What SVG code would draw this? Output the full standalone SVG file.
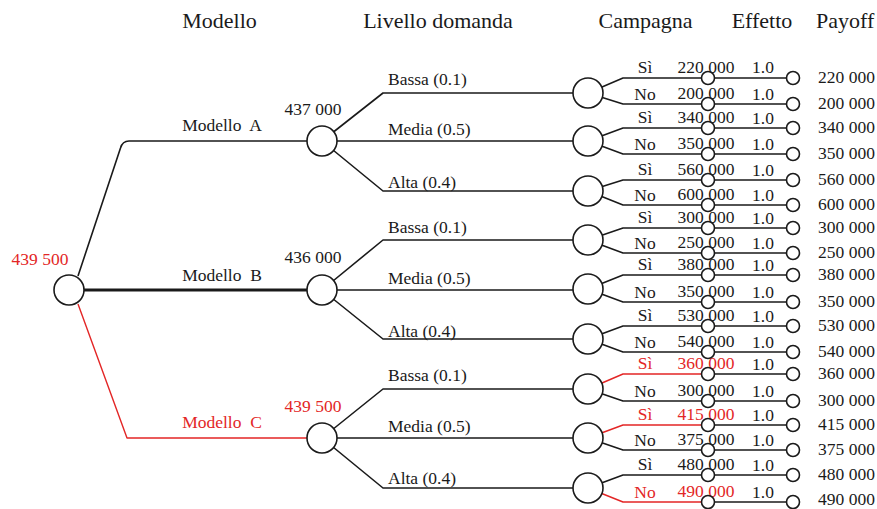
<svg xmlns="http://www.w3.org/2000/svg" width="877" height="509" viewBox="0 0 877 509">
<style>
.bg{fill:#fff}
.ln{fill:none;stroke:#1a1a1a;stroke-width:1.6;stroke-linejoin:round}
.thick{stroke-width:2.8}
.red{stroke:#e32626;stroke-width:1.4}
.nd{fill:#fff;stroke:#1a1a1a;stroke-width:1.6}
.t{font-family:"Liberation Serif","Times New Roman",serif;font-size:17.5px;fill:#1a1a1a}
.h{font-size:22px}
.m{text-anchor:middle}
.rt{fill:#e32626}
</style>
<rect class="bg" x="0" y="0" width="877" height="509"/>
<g id="headers">
<text class="t h m" x="219.5" y="28">Modello</text>
<text class="t h m" x="438" y="28">Livello domanda</text>
<text class="t h m" x="645.5" y="28">Campagna</text>
<text class="t h m" x="762" y="28">Effetto</text>
<text class="t h" x="816" y="28">Payoff</text>
</g>
<g id="connectors">
<path class="ln" d="M78,276 L120.5,148 Q122.5,141 129,141 H307"/>
<path class="ln thick" d="M84,290 H307"/>
<path class="ln red" d="M78,304 L127,438 H307"/>
<path class="ln" d="M322,141 L383,93 H574 M322,141 H574 M322,141 L383,191 H574"/>
<path class="ln" d="M322,290 L383,240 H574 M322,290 H574 M322,290 L383,339 H574"/>
<path class="ln" d="M322,438 L383,389 H574 M322,438 H574 M322,438 L383,488 H574"/>
<path class="ln" d="M588,93 L623,78 H786 M588,93 L623,104 H786"/>
<path class="ln" d="M588,141 L623,128 H786 M588,141 L623,154 H786"/>
<path class="ln" d="M588,191 L623,180 H786 M588,191 L623,205 H786"/>
<path class="ln" d="M588,240 L623,228 H786 M588,240 L623,253 H786"/>
<path class="ln" d="M588,289 L623,275 H786 M588,289 L623,302 H786"/>
<path class="ln" d="M588,339 L623,326 H786 M588,339 L623,352 H786"/>
<path class="ln red" d="M588,389 L623,374 H708"/>
<path class="ln" d="M708,374 H786 M588,389 L623,401 H786"/>
<path class="ln red" d="M588,438 L623,425 H708"/>
<path class="ln" d="M708,425 H786 M588,438 L623,450 H786"/>
<path class="ln" d="M588,488 L623,475 H786"/>
<path class="ln red" d="M588,488 L623,502 H708"/>
<path class="ln" d="M708,502 H786"/>
</g>
<g id="labels">
<text class="t m" x="222" y="131">Modello&#160; A</text>
<text class="t m" x="222" y="281">Modello&#160; B</text>
<text class="t m rt" x="222" y="428">Modello&#160; C</text>
<text class="t" x="388" y="85">Bassa (0.1)</text>
<text class="t" x="388" y="135">Media (0.5)</text>
<text class="t" x="388" y="188">Alta (0.4)</text>
<text class="t" x="388" y="233">Bassa (0.1)</text>
<text class="t" x="388" y="284">Media (0.5)</text>
<text class="t" x="388" y="337">Alta (0.4)</text>
<text class="t" x="388" y="381">Bassa (0.1)</text>
<text class="t" x="388" y="432">Media (0.5)</text>
<text class="t" x="388" y="484">Alta (0.4)</text>
<g class="t m">
<text x="645" y="73">Sì</text><text x="645" y="100">No</text>
<text x="645" y="123">Sì</text><text x="645" y="150">No</text>
<text x="645" y="175">Sì</text><text x="645" y="201">No</text>
<text x="645" y="223">Sì</text><text x="645" y="249">No</text>
<text x="645" y="270">Sì</text><text x="645" y="298">No</text>
<text x="645" y="321">Sì</text><text x="645" y="348">No</text>
<text x="645" y="369" class="rt">Sì</text><text x="645" y="397">No</text>
<text x="645" y="420" class="rt">Sì</text><text x="645" y="446">No</text>
<text x="645" y="470">Sì</text><text x="645" y="498" class="rt">No</text>
<text x="706" y="73">220 000</text><text x="706" y="99">200 000</text>
<text x="706" y="123">340 000</text><text x="706" y="149">350 000</text>
<text x="706" y="175">560 000</text><text x="706" y="200">600 000</text>
<text x="706" y="223">300 000</text><text x="706" y="248">250 000</text>
<text x="706" y="270">380 000</text><text x="706" y="297">350 000</text>
<text x="706" y="321">530 000</text><text x="706" y="347">540 000</text>
<text x="706" y="369" class="rt">360 000</text><text x="706" y="396">300 000</text>
<text x="706" y="420" class="rt">415 000</text><text x="706" y="445">375 000</text>
<text x="706" y="470">480 000</text><text x="706" y="497" class="rt">490 000</text>
<text x="763" y="73">1.0</text><text x="763" y="100">1.0</text>
<text x="763" y="124">1.0</text><text x="763" y="150">1.0</text>
<text x="763" y="176">1.0</text><text x="763" y="201">1.0</text>
<text x="763" y="224">1.0</text><text x="763" y="249">1.0</text>
<text x="763" y="271">1.0</text><text x="763" y="298">1.0</text>
<text x="763" y="322">1.0</text><text x="763" y="348">1.0</text>
<text x="763" y="370">1.0</text><text x="763" y="397">1.0</text>
<text x="763" y="421">1.0</text><text x="763" y="446">1.0</text>
<text x="763" y="471">1.0</text><text x="763" y="498">1.0</text>
</g>
</g>
<g id="root"><circle class="nd" cx="69" cy="290" r="15"/><text class="t m rt" x="40" y="265">439 500</text></g>
<g id="modelloA"><circle class="nd" cx="322" cy="141" r="15"/><text class="t m" x="313" y="115">437 000</text></g>
<g id="modelloB"><circle class="nd" cx="322" cy="290" r="15"/><text class="t m" x="313" y="263">436 000</text></g>
<g id="modelloC"><circle class="nd" cx="322" cy="438" r="15"/><text class="t m rt" x="313" y="412">439 500</text></g>
<g id="campA1"><circle class="nd" cx="588" cy="93" r="15"/></g>
<g id="campA2"><circle class="nd" cx="588" cy="141" r="15"/></g>
<g id="campA3"><circle class="nd" cx="588" cy="191" r="15"/></g>
<g id="campB1"><circle class="nd" cx="588" cy="240" r="15"/></g>
<g id="campB2"><circle class="nd" cx="588" cy="289" r="15"/></g>
<g id="campB3"><circle class="nd" cx="588" cy="339" r="15"/></g>
<g id="campC1"><circle class="nd" cx="588" cy="389" r="15"/></g>
<g id="campC2"><circle class="nd" cx="588" cy="438" r="15"/></g>
<g id="campC3"><circle class="nd" cx="588" cy="488" r="15"/></g>
<g id="effetto">
<g id="eff1"><circle class="nd" cx="708" cy="78" r="6.5"/></g>
<g id="eff2"><circle class="nd" cx="708" cy="104" r="6.5"/></g>
<g id="eff3"><circle class="nd" cx="708" cy="128" r="6.5"/></g>
<g id="eff4"><circle class="nd" cx="708" cy="154" r="6.5"/></g>
<g id="eff5"><circle class="nd" cx="708" cy="180" r="6.5"/></g>
<g id="eff6"><circle class="nd" cx="708" cy="205" r="6.5"/></g>
<g id="eff7"><circle class="nd" cx="708" cy="228" r="6.5"/></g>
<g id="eff8"><circle class="nd" cx="708" cy="253" r="6.5"/></g>
<g id="eff9"><circle class="nd" cx="708" cy="275" r="6.5"/></g>
<g id="eff10"><circle class="nd" cx="708" cy="302" r="6.5"/></g>
<g id="eff11"><circle class="nd" cx="708" cy="326" r="6.5"/></g>
<g id="eff12"><circle class="nd" cx="708" cy="352" r="6.5"/></g>
<g id="eff13"><circle class="nd" cx="708" cy="374" r="6.5"/></g>
<g id="eff14"><circle class="nd" cx="708" cy="401" r="6.5"/></g>
<g id="eff15"><circle class="nd" cx="708" cy="425" r="6.5"/></g>
<g id="eff16"><circle class="nd" cx="708" cy="450" r="6.5"/></g>
<g id="eff17"><circle class="nd" cx="708" cy="475" r="6.5"/></g>
<g id="eff18"><circle class="nd" cx="708" cy="502" r="6.5"/></g>
</g>
<g id="payoffs">
<g id="pay1"><circle class="nd" cx="793" cy="78" r="6.5"/><text class="t" x="818" y="83">220 000</text></g>
<g id="pay2"><circle class="nd" cx="793" cy="104" r="6.5"/><text class="t" x="818" y="109">200 000</text></g>
<g id="pay3"><circle class="nd" cx="793" cy="128" r="6.5"/><text class="t" x="818" y="133">340 000</text></g>
<g id="pay4"><circle class="nd" cx="793" cy="154" r="6.5"/><text class="t" x="818" y="159">350 000</text></g>
<g id="pay5"><circle class="nd" cx="793" cy="180" r="6.5"/><text class="t" x="818" y="185">560 000</text></g>
<g id="pay6"><circle class="nd" cx="793" cy="205" r="6.5"/><text class="t" x="818" y="210">600 000</text></g>
<g id="pay7"><circle class="nd" cx="793" cy="228" r="6.5"/><text class="t" x="818" y="233">300 000</text></g>
<g id="pay8"><circle class="nd" cx="793" cy="253" r="6.5"/><text class="t" x="818" y="258">250 000</text></g>
<g id="pay9"><circle class="nd" cx="793" cy="275" r="6.5"/><text class="t" x="818" y="280">380 000</text></g>
<g id="pay10"><circle class="nd" cx="793" cy="302" r="6.5"/><text class="t" x="818" y="307">350 000</text></g>
<g id="pay11"><circle class="nd" cx="793" cy="326" r="6.5"/><text class="t" x="818" y="331">530 000</text></g>
<g id="pay12"><circle class="nd" cx="793" cy="352" r="6.5"/><text class="t" x="818" y="357">540 000</text></g>
<g id="pay13"><circle class="nd" cx="793" cy="374" r="6.5"/><text class="t" x="818" y="379">360 000</text></g>
<g id="pay14"><circle class="nd" cx="793" cy="401" r="6.5"/><text class="t" x="818" y="406">300 000</text></g>
<g id="pay15"><circle class="nd" cx="793" cy="425" r="6.5"/><text class="t" x="818" y="430">415 000</text></g>
<g id="pay16"><circle class="nd" cx="793" cy="450" r="6.5"/><text class="t" x="818" y="455">375 000</text></g>
<g id="pay17"><circle class="nd" cx="793" cy="475" r="6.5"/><text class="t" x="818" y="480">480 000</text></g>
<g id="pay18"><circle class="nd" cx="793" cy="502" r="6.5"/><text class="t" x="818" y="505">490 000</text></g>
</g>
</svg>
